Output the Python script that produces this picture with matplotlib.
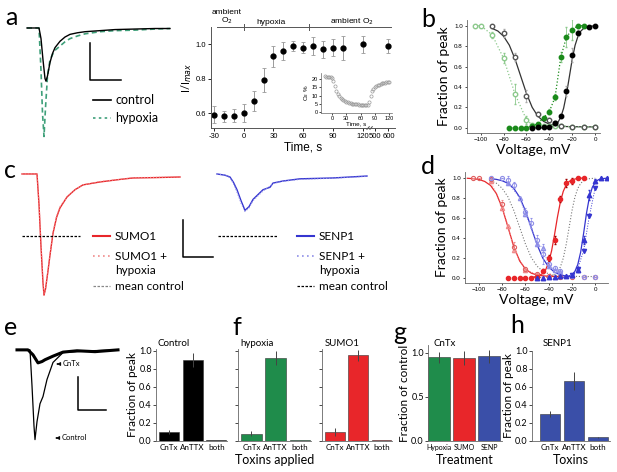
import numpy as np
import matplotlib
matplotlib.use('Agg')
import matplotlib.pyplot as plt

W, H = 617, 472
plt.rcParams['font.family'] = ['Lato', 'DejaVu Sans']
ARIAL = ['Liberation Sans', 'DejaVu Sans']

GREEN_T = '#3fa07a'
GREEN = '#1f8c4b'
GREEN_D = '#1a8a1a'
GREEN_L = '#8cc98c'
RED = '#e8262a'
RED_L = '#f08a8a'
BLUE = '#3a4fa8'
BLUE_P = '#3535d0'
BLUE_L = '#8f8fe8'

# ---- a: example traces (ms, normalised to control peak)
A_T = [0.4, 2.8, 3.2, 3.6, 4.0, 4.2, 4.5, 5.0, 5.5, 6.0, 7.0, 8.0, 9.0, 10.5, 12, 15, 18, 22, 26, 29]
A_CTRL = [0, 0, -0.2, -0.6, -0.95, -1.0, -0.9, -0.65, -0.48, -0.37, -0.25, -0.17, -0.12, -0.09,
          -0.07, -0.05, -0.03, -0.02, -0.01, -0.01]
A_TH = [0.4, 2.8, 3.2, 3.5, 3.8, 4.1, 4.5, 5.0, 5.5, 6.0, 7.0, 8.0, 9.0, 10.5, 12, 15, 18, 22, 26, 29]
A_HYP = [0, 0, -0.8, -1.6, -2.04, -1.5, -0.9, -0.6, -0.5, -0.42, -0.34, -0.26, -0.2, -0.15,
         -0.11, -0.07, -0.05, -0.04, -0.02, -0.01]

# ---- a: time course
TIME = [-30, -20, -10, 0, 10, 20, 30, 40, 50, 60, 70, 80, 90, 100, 120, 600]
RATIO = [0.59, 0.58, 0.585, 0.60, 0.67, 0.79, 0.93, 0.96, 0.99, 0.98, 0.99, 0.97, 0.98, 0.98, 1.00, 0.99]
RATIO_ERR = [0.05, 0.03, 0.04, 0.05, 0.06, 0.07, 0.06, 0.05, 0.03, 0.03, 0.05, 0.05, 0.05, 0.07, 0.05, 0.04]
TIME_TICKS = [-30, 0, 30, 60, 90, 120, 500, 600]

# ---- a inset: O2 %
O2_T = [-15, -12, -9, -6, -3, 0, 3, 6, 9, 12, 15, 18, 21, 24, 27, 30, 33, 36, 39, 42, 45, 48, 51,
        54, 57, 60, 63, 66, 69, 72, 75, 78, 81, 84, 87, 90, 93, 96, 99, 102, 105, 108, 111, 114, 117, 120]
O2_V = [21.5, 21.4, 21.3, 21.2, 21.0, 20.5, 18.5, 15.5, 13.0, 11.2, 10.0, 8.8, 8.0, 7.3, 6.8, 6.3,
        6.0, 5.7, 5.4, 5.2, 5.0, 4.9, 4.8, 4.7, 4.6, 4.5, 4.5, 4.4, 4.4, 4.5, 4.6, 6.0, 10.0, 12.5,
        14.0, 15.0, 15.7, 16.2, 16.6, 17.0, 17.3, 17.5, 17.7, 17.9, 18.0, 18.2]

# ---- b: voltage dependence, control vs hypoxia
B_INACT_V = [-90, -80, -70, -60, -50, -40, -35, -30, -20, -10, 0]
B_INACT_C = [1.0, 0.93, 0.69, 0.31, 0.14, 0.08, 0.05, 0.02, 0.01, 0.01, 0.01]
B_INACT_C_ERR = [0.0, 0.04, 0.04, 0.06, 0.02, 0.02, 0.01, 0.01, 0.0, 0.0, 0.0]
B_INACT_HV = [-105, -100, -90, -80, -70, -60, -55, -50, -45, -40, -35, -30, -20, -10, 0]
B_INACT_H = [1.0, 1.0, 0.91, 0.68, 0.33, 0.08, 0.03, 0.03, 0.02, 0.02, 0.02, 0.02, 0.01, 0.01, 0.01]
B_INACT_H_ERR = [0, 0, 0.03, 0.05, 0.1, 0.04, 0.01, 0.01, 0, 0, 0, 0, 0, 0, 0]
B_ACT_V = [-55, -50, -45, -40, -35, -30, -25, -20, -15, -5, 0]
B_ACT_C = [0.0, 0.01, 0.01, 0.01, 0.05, 0.12, 0.36, 0.71, 0.93, 0.99, 1.0]
B_ACT_C_ERR = [0, 0, 0, 0, 0.01, 0.02, 0.05, 0.07, 0.03, 0, 0]
B_ACT_HV = [-75, -70, -65, -60, -55, -50, -45, -40, -35, -30, -25, -20, -15, -10]
B_ACT_H = [0.0, 0.0, 0.0, 0.0, 0.02, 0.04, 0.10, 0.16, 0.30, 0.69, 0.89, 0.96, 1.0, 1.0]
B_ACT_H_ERR = [0, 0, 0, 0, 0, 0, 0.01, 0.02, 0.03, 0.05, 0.1, 0.1, 0, 0]

# control fits (also shown as mean control in d)
FIT_INACT_V = [-110, -105, -100, -95, -90, -85, -80, -75, -70, -65, -60, -55, -50, -45, -40, -35,
               -30, -25, -20, -15, -10, -5, 0]
FIT_INACT = [0.998, 0.997, 0.993, 0.986, 0.973, 0.947, 0.896, 0.809, 0.673, 0.505, 0.337, 0.201,
             0.114, 0.063, 0.037, 0.023, 0.017, 0.013, 0.012, 0.011, 0.01, 0.01, 0.01]
FIT_ACT_V = [-55, -50, -45, -40, -37.5, -35, -32.5, -30, -27.5, -25, -22.5, -20, -17.5, -15, -12.5,
             -10, -5, 0]
FIT_ACT = [0.0, 0.0004, 0.0016, 0.0067, 0.0136, 0.027, 0.054, 0.105, 0.193, 0.33, 0.5, 0.67, 0.807,
           0.895, 0.946, 0.973, 0.993, 0.998]

# ---- c: SUMO1 / SENP1 traces
C_T = [0.4, 3.4, 3.8, 4.2, 4.6, 4.8, 5.1, 5.6, 6.0, 6.6, 7.3, 8.0, 9.4, 11, 12.6, 16, 20, 22.6, 27, 32]
C_SUMO = [0, 0, -0.25, -0.6, -0.9, -1.0, -0.95, -0.8, -0.67, -0.49, -0.36, -0.28, -0.19, -0.13,
          -0.09, -0.066, -0.045, -0.033, -0.03, -0.025]
C_SUMO_H = [0, 0, -0.24, -0.58, -0.88, -0.99, -0.95, -0.79, -0.66, -0.48, -0.35, -0.27, -0.19, -0.13,
            -0.09, -0.062, -0.045, -0.03, -0.028, -0.025]
C_TB = [0.4, 2.0, 3.0, 3.7, 4.4, 5.2, 6.0, 6.8, 7.6, 9.6, 11, 11.6, 13.6, 17, 23.6, 30.4]
C_SENP = [0, -0.01, -0.025, -0.07, -0.13, -0.22, -0.30, -0.27, -0.21, -0.13, -0.11, -0.075, -0.058,
          -0.04, -0.033, -0.017]
C_SENP_H = [0, -0.01, -0.03, -0.08, -0.15, -0.24, -0.31, -0.28, -0.22, -0.14, -0.1, -0.08, -0.06,
            -0.045, -0.035, -0.02]
C_MEAN_CTRL = -0.51

# ---- d: voltage dependence, SUMO1 / SENP1
D_R_INV = [-105, -100, -90, -80, -70, -60, -50, -40, -30, -20, -10, 0]
D_R_IN = [1.0, 1.0, 0.99, 0.74, 0.31, 0.09, 0.04, 0.02, 0.01, 0.01, 0.01, 0.01]
D_R_IN_ERR = [0, 0, 0.03, 0.04, 0.05, 0.02, 0.01, 0, 0, 0, 0, 0]
D_RH_INV = [-90, -80, -75, -70, -60, -50]
D_RH_IN = [0.97, 0.70, 0.52, 0.28, 0.08, 0.03]
D_R_ACV = [-75, -70, -65, -60, -55, -50, -45, -40, -35, -30, -25, -20, -15, -10]
D_R_AC = [0, 0, 0, 0, 0, 0.01, 0.07, 0.20, 0.38, 0.79, 0.95, 0.97, 1.0, 1.0]
D_R_AC_ERR = [0, 0, 0, 0, 0, 0, 0.02, 0.03, 0.04, 0.03, 0.04, 0.03, 0, 0]
D_B_INV = [-90, -80, -75, -70, -60, -55, -50, -45, -40, -35, -30, -20, -10, 0]
D_B_IN = [1.0, 1.0, 0.98, 0.93, 0.66, 0.55, 0.38, 0.24, 0.14, 0.10, 0.07, 0.02, 0.01, 0.01]
D_B_IN_ERR = [0, 0, 0.04, 0.03, 0.04, 0.05, 0.05, 0.1, 0.04, 0.02, 0.02, 0, 0, 0]
D_BH_INV = [-75, -65, -60, -50, -45, -40, -35, -30]
D_BH_IN = [0.95, 0.80, 0.64, 0.34, 0.30, 0.12, 0.08, 0.06]
D_B_ACV = [-50, -45, -40, -35, -30, -25, -20, -15, -10, -5, 0, 5, 10]
D_B_AC = [0, 0, 0.01, 0.01, 0.02, 0.02, 0.03, 0.08, 0.38, 0.83, 0.97, 1.0, 1.0]
D_B_AC_ERR = [0, 0, 0, 0, 0, 0, 0.01, 0.02, 0.04, 0.05, 0.02, 0, 0]
D_BH_ACV = [-20, -15, -10, -5, 0]
D_BH_AC = [0.03, 0.09, 0.27, 0.62, 0.90]

FIT_R_INV = [-110, -105, -100, -95, -90, -85, -80, -75, -70, -65, -60, -55, -50, -45, -40, -35, -30]
FIT_R_IN = [0.997, 0.993, 0.985, 0.965, 0.925, 0.843, 0.70, 0.505, 0.31, 0.167, 0.085, 0.044,
            0.025, 0.017, 0.013, 0.011, 0.01]
FIT_R_ACV = [-55, -50, -45, -42.5, -40, -37.5, -35, -32.5, -30, -27.5, -25, -22.5, -20, -15, -10]
FIT_R_AC = [0.0025, 0.010, 0.041, 0.081, 0.154, 0.269, 0.43, 0.606, 0.757, 0.865, 0.93, 0.964,
            0.982, 0.996, 0.999]
FIT_B_INV = [-90, -85, -80, -75, -70, -65, -60, -55, -50, -45, -40, -35, -30, -25, -20]
FIT_B_IN = [0.993, 0.986, 0.972, 0.946, 0.895, 0.807, 0.67, 0.5, 0.33, 0.193, 0.105, 0.054, 0.027,
            0.014, 0.007]
FIT_B_ACV = [-30, -25, -20, -17.5, -15, -12.5, -10, -7.5, -5, -2.5, 0, 2.5, 5, 10]
FIT_B_AC = [0.001, 0.005, 0.027, 0.061, 0.13, 0.256, 0.442, 0.646, 0.807, 0.906, 0.957, 0.981,
            0.992, 0.998]

# ---- e: toxin traces
E_T = [0.4, 3.0, 3.4, 3.8, 4.0, 4.4, 5.0, 5.6, 6.4, 7.6, 9.6, 12.4, 15, 20.6]
E_CTRL = [0, 0, -0.4, -0.85, -1.0, -0.8, -0.6, -0.52, -0.33, -0.14, -0.03, -0.02, -0.01, 0.0]
E_TC = [0.4, 2.6, 3.6, 4.6, 5.4, 6.0, 7.6, 9.6, 12.4, 16, 20.6]
E_CNTX = [0, 0, -0.055, -0.145, -0.13, -0.11, -0.07, -0.025, -0.01, -0.02, 0.0]

# ---- e-h: bar charts
TOXINS = ['CnTx', 'AnTTX', 'both']
CTRL_FRAC = [0.10, 0.90, 0.01]
CTRL_ERR = [0.025, 0.08, 0.003]
HYP_FRAC = [0.08, 0.92, 0.01]
HYP_ERR = [0.03, 0.08, 0.003]
SUMO_FRAC = [0.10, 0.95, 0.01]
SUMO_ERR = [0.04, 0.06, 0.003]
TREATMENTS = ['Hypoxia', 'SUMO', 'SENP']
CNTX_FRAC = [0.95, 0.94, 0.96]
CNTX_ERR = [0.06, 0.08, 0.07]
SENP_FRAC = [0.30, 0.66, 0.04]
SENP_ERR = [0.035, 0.10, 0.008]

fig = plt.figure(figsize=(W / 100, H / 100), dpi=100)


def box(x0, y0, x1, y1):
    return fig.add_axes([x0 / W, 1 - y1 / H, (x1 - x0) / W, (y1 - y0) / H])


# overlay in pixel coordinates for labels, scale bars, legends (drawn on top)
ov = box(0, 0, W, H)
ov.set_xlim(0, W); ov.set_ylim(H, 0); ov.axis('off')
ov.set_zorder(10)


def sbar(x, y_top, y_bot, x_end):
    ov.plot([x, x, x_end], [y_top, y_bot, y_bot], color='black', lw=1.1)


for lab, x, y in [('a', 5, 25), ('b', 421, 27), ('c', 4, 178), ('d', 421, 174),
                  ('e', 4, 335), ('f', 232, 335), ('g', 393, 340), ('h', 510, 333)]:
    ov.text(x, y, lab, fontsize=18, va='baseline', ha='left')

# ---- a traces
axA = box(25, 20, 175, 145)
axA.set_xlim(0, 30); axA.set_ylim(-2.2, 0.15); axA.axis('off')
axA.plot(A_TH, A_HYP, color=GREEN_T, lw=1.2, ls=(0, (3, 2)))
axA.plot(A_T, A_CTRL, color='black', lw=1.0)
sbar(90, 43, 80, 121)
ov.plot([93, 111], [100, 100], color='black', lw=1.2)
ov.plot([93, 111], [118, 118], color=GREEN_T, lw=1.2, ls=(0, (1.5, 2)))
ov.text(115, 100, 'control', fontsize=9, va='center')
ov.text(115, 118, 'hypoxia', fontsize=9, va='center')

# ---- a time course
def tpos(t):
    return t if t <= 120 else 132.6 + (t - 500) * 0.134

axT = box(211, 27, 395, 128)
axT.errorbar([tpos(t) for t in TIME], RATIO, yerr=RATIO_ERR, fmt='o', color='black', ms=3.5,
             ecolor='#9a9a9a', elinewidth=0.7, capsize=1.5, capthick=0.6)
axT.set_xlim(-33, 152.6); axT.set_ylim(0.513, 1.1)
axT.set_xticks([tpos(t) for t in TIME_TICKS])
axT.set_xticklabels([str(t) for t in TIME_TICKS], family=ARIAL, fontsize=5.5)
axT.set_yticks([0.6, 0.8, 1.0])
axT.set_yticklabels(['0.6', '0.8', '1.0'], family=ARIAL, fontsize=5.5)
axT.tick_params(length=2, width=0.6, pad=1.5)
for s in ['top', 'right']:
    axT.spines[s].set_visible(False)
for s in ['left', 'bottom']:
    axT.spines[s].set_linewidth(0.7); axT.spines[s].set_color('#555555')
axT.set_xlabel('Time, s', family=ARIAL, fontsize=8.5, labelpad=1)
axT.set_ylabel('I/I$_{max}$', fontsize=8, labelpad=1)
axT.plot([-27, 149], [1.1, 1.1], color='#555555', lw=0.7, clip_on=False)
for tx in [0, 66]:
    axT.plot([tx, tx], [1.08, 1.12], color='#555555', lw=0.7, clip_on=False)
for bx in [125.5, 128.5]:
    axT.plot([bx - 1.2, bx + 1.2], [0.505, 0.521], color='#555555', lw=0.7, clip_on=False)
ov.text(227, 12, 'ambient', family=ARIAL, fontsize=6, ha='center', va='center')
ov.text(227, 21, 'O$_2$', family=ARIAL, fontsize=6, ha='center', va='center')
ov.text(271, 22, 'hypoxia', family=ARIAL, fontsize=6, ha='center', va='center')
ov.text(352, 22, 'ambient O$_2$', family=ARIAL, fontsize=6, ha='center', va='center')

# inset
axI = box(321, 73, 392, 113)
axI.patch.set_alpha(0)
axI.plot(O2_T, O2_V, 'o', mfc='none', mec='#999999', ms=2.3, mew=0.5)
axI.set_xlim(-23, 126); axI.set_ylim(-0.5, 23.5)
axI.set_xticks([0, 30, 60, 90, 120]); axI.set_yticks([0, 5, 10, 15, 20])
axI.tick_params(labelsize=4, length=1.5, width=0.5, pad=1)
for lab in axI.get_xticklabels() + axI.get_yticklabels():
    lab.set_family(ARIAL)
for s in ['top', 'right']:
    axI.spines[s].set_visible(False)
for s in ['left', 'bottom']:
    axI.spines[s].set_linewidth(0.5); axI.spines[s].set_color('#666666')
axI.set_xlabel('Time, s', family=ARIAL, fontsize=4.5, labelpad=0)
axI.set_ylabel('O$_2$ %', family=ARIAL, fontsize=4.5, labelpad=0)


def volt_axes(ax, xmax):
    ax.set_xlim(-112, xmax)
    ax.set_xticks([-100, -80, -60, -40, -20, 0])
    ax.set_yticks([0, 0.2, 0.4, 0.6, 0.8, 1.0])
    ax.set_yticklabels(['0.0', '0.2', '0.4', '0.6', '0.8', '1.0'])
    ax.tick_params(labelsize=4.5, length=1.5, width=0.5, pad=1.5)
    for lab in ax.get_xticklabels() + ax.get_yticklabels():
        lab.set_family(ARIAL)
    for s in ['top', 'right']:
        ax.spines[s].set_visible(False)
    for s in ['left', 'bottom']:
        ax.spines[s].set_linewidth(0.6); ax.spines[s].set_color('#666666')
    ax.set_ylabel('Fraction of peak', fontsize=10, labelpad=3)
    ax.set_xlabel('Voltage, mV', fontsize=10, labelpad=1)


# ---- b
axB = box(467, 20, 600, 133)
axB.set_ylim(-0.05, 1.055)
axB.plot(FIT_INACT_V[4:], FIT_INACT[4:], color='#333333', lw=0.9)
axB.plot(FIT_ACT_V, FIT_ACT, color='#333333', lw=0.9)
axB.errorbar(B_INACT_HV, B_INACT_H, yerr=B_INACT_H_ERR, fmt='o', ls=':', color=GREEN_L, mfc='white',
             mec=GREEN_L, ms=3.2, lw=0.9, elinewidth=0.6, capsize=1)
axB.errorbar(B_ACT_HV, B_ACT_H, yerr=B_ACT_H_ERR, fmt='o', ls=':', color=GREEN_D, ms=3.2, lw=0.9,
             ecolor=GREEN_L, elinewidth=0.6, capsize=1)
axB.errorbar(B_INACT_V, B_INACT_C, yerr=B_INACT_C_ERR, fmt='o', color='#555555', mfc='white',
             ms=3.2, elinewidth=0.6, ecolor='#aaaaaa', capsize=1)
axB.errorbar(B_ACT_V, B_ACT_C, yerr=B_ACT_C_ERR, fmt='o', color='black', ms=3.2,
             elinewidth=0.6, ecolor='#aaaaaa', capsize=1)
volt_axes(axB, 4.3)

# ---- c traces
axC1 = box(20, 165, 185, 300)
axC1.set_xlim(0, 33); axC1.set_ylim(-1.04, 0.074); axC1.axis('off')
axC1.plot(C_T, C_SUMO, color=RED, lw=1.0)
axC1.plot(C_T, C_SUMO_H, color=RED_L, lw=0.8, ls=':')
axC1.plot([0.4, 12], [C_MEAN_CTRL, C_MEAN_CTRL], color='black', lw=0.9, ls=(0, (2, 1.2)))
axC2 = box(215, 165, 380, 300)
axC2.set_xlim(0, 33); axC2.set_ylim(-1.04, 0.074); axC2.axis('off')
axC2.plot(C_TB, C_SENP, color=BLUE_P, lw=1.0)
axC2.plot(C_TB, C_SENP_H, color=BLUE_L, lw=0.8, ls=':')
axC2.plot([0.6, 12.6], [C_MEAN_CTRL, C_MEAN_CTRL], color='black', lw=0.9, ls=(0, (2, 1.2)))
sbar(183, 220, 257, 213)
for x0, col, colh, name, dcol in [(93, RED, RED_L, 'SUMO1', '#888888'),
                                  (297, BLUE_P, BLUE_L, 'SENP1', 'black')]:
    ov.plot([x0, x0 + 17], [236, 236], color=col, lw=1.5)
    ov.plot([x0, x0 + 17], [256, 256], color=colh, lw=1.2, ls=(0, (1, 2)))
    ov.plot([x0, x0 + 17], [286, 286], color=dcol, lw=0.9, ls=(0, (2, 1.2)))
    ov.text(x0 + 22, 236, name, fontsize=8.5, va='center')
    ov.text(x0 + 22, 256, name + ' +', fontsize=8.5, va='center')
    ov.text(x0 + 22, 271, 'hypoxia', fontsize=8.5, va='center')
    ov.text(x0 + 22, 286, 'mean control', fontsize=8.5, va='center')

# ---- d
axD = box(465, 172, 608, 283)
axD.set_ylim(-0.055, 1.06)
axD.plot(FIT_INACT_V[4:], FIT_INACT[4:], color='#777777', lw=0.8, ls=':')
axD.plot(FIT_ACT_V, FIT_ACT, color='#777777', lw=0.8, ls=':')
axD.plot(FIT_R_INV, FIT_R_IN, color=RED, lw=0.9)
axD.plot(FIT_R_ACV, FIT_R_AC, color=RED, lw=0.9)
axD.plot(FIT_B_INV, FIT_B_IN, color=BLUE_P, lw=0.9)
axD.plot(FIT_B_ACV, FIT_B_AC, color=BLUE_P, lw=0.9)
axD.plot(D_RH_INV, D_RH_IN, '^', ls=':', color=RED_L, mfc='none', ms=3, lw=0.7)
axD.plot(D_BH_INV, D_BH_IN, '^', ls=':', color=BLUE_L, mfc='none', ms=3, lw=0.7)
axD.plot(D_BH_ACV, D_BH_AC, 'v', ls=':', color=BLUE_P, ms=3, lw=0.7)
axD.errorbar(D_R_INV, D_R_IN, yerr=D_R_IN_ERR, fmt='o', color='#e06060', mfc='none', ms=3,
             mew=0.8, elinewidth=0.5, ecolor=RED_L, capsize=1)
axD.errorbar(D_B_INV, D_B_IN, yerr=D_B_IN_ERR, fmt='o', color=BLUE_L, mfc='none', ms=3,
             mew=0.8, elinewidth=0.5, ecolor=BLUE_L, capsize=1)
axD.errorbar(D_R_ACV, D_R_AC, yerr=D_R_AC_ERR, fmt='o', color=RED, ms=3, elinewidth=0.6,
             ecolor='#a00000', capsize=1)
axD.errorbar(D_B_ACV, D_B_AC, yerr=D_B_AC_ERR, fmt='^', color=BLUE_P, ms=3.2, elinewidth=0.6,
             ecolor=BLUE_P, capsize=1)
volt_axes(axD, 11)

# ---- e traces
axE = box(15, 340, 120, 445)
axE.set_xlim(0, 21); axE.set_ylim(-1.06, 0.11); axE.axis('off')
axE.plot(E_T, E_CTRL, color='black', lw=0.9)
axE.plot(E_TC, E_CNTX, color='black', lw=2.2)
sbar(78, 377, 410, 106)
ov.annotate('CnTx', xy=(54, 364), xytext=(63, 364), fontsize=5.5, va='center',
            arrowprops=dict(arrowstyle='-|>', lw=0.7, color='black', mutation_scale=5))
ov.annotate('Control', xy=(53, 438), xytext=(62, 438), fontsize=5.5, va='center',
            arrowprops=dict(arrowstyle='-|>', lw=0.7, color='black', mutation_scale=5))


def bar_axes(ax, cats, vals, errs, color, xlim, ylim, width=0.85, xfs=5.8):
    x = np.arange(len(cats))
    ax.bar(x, vals, width=width, color=color, edgecolor='#333333', lw=0.4,
           yerr=errs, error_kw=dict(ecolor='#444444', elinewidth=0.7, capsize=0))
    ax.set_xlim(*xlim); ax.set_ylim(*ylim)
    ax.set_xticks(x)
    ax.set_xticklabels(cats, fontsize=xfs)
    ax.tick_params(axis='x', length=0, pad=2)
    ax.tick_params(axis='y', labelsize=6.5, length=2, width=0.5, pad=1)
    ax.patch.set_alpha(0)
    for s in ['top', 'right']:
        ax.spines[s].set_visible(False)
    for s in ['left', 'bottom']:
        ax.spines[s].set_linewidth(0.6); ax.spines[s].set_color('#666666')


axCt = box(156, 349, 227, 441)
bar_axes(axCt, TOXINS, CTRL_FRAC, CTRL_ERR, 'black', (-0.55, 2.45), (0, 1.02))
axCt.set_yticks([0, 0.2, 0.4, 0.6, 0.8, 1.0])
axCt.set_yticklabels(['0.0', '0.2', '0.4', '0.6', '0.8', '1.0'])
axCt.set_ylabel('Fraction of peak', fontsize=8.5, labelpad=1)

axHy = box(238, 349, 311, 441)
bar_axes(axHy, TOXINS, HYP_FRAC, HYP_ERR, GREEN, (-0.55, 2.45), (0, 1.02))
axHy.set_yticks([0, 0.2, 0.4, 0.6, 0.8, 1.0]); axHy.set_yticklabels([])
axHy.set_xlabel('Toxins applied', fontsize=9, labelpad=2)

axSu = box(322, 349, 392, 441)
bar_axes(axSu, TOXINS, SUMO_FRAC, SUMO_ERR, RED, (-0.55, 2.45), (0, 1.02))
axSu.set_yticks([0, 0.2, 0.4, 0.6, 0.8, 1.0]); axSu.set_yticklabels([])

axG = box(428, 345, 502, 441)
bar_axes(axG, TREATMENTS, CNTX_FRAC, CNTX_ERR, [GREEN, RED, BLUE], (-0.45, 2.5), (0, 1.09),
         width=0.88, xfs=5.0)
axG.set_yticks([0, 0.5, 1.0]); axG.set_yticklabels(['0.0', '0.5', '1.0'])
axG.set_ylabel('Fraction of control', fontsize=8.5, labelpad=1)
axG.set_xlabel('Treatment', fontsize=9, labelpad=2)

axH = box(532, 350.7, 610, 441)
bar_axes(axH, TOXINS, SENP_FRAC, SENP_ERR, BLUE, (-0.75, 2.5), (0, 1.0))
axH.set_yticks([0, 0.2, 0.4, 0.6, 0.8, 1.0])
axH.set_yticklabels(['0.0', '0.2', '0.4', '0.6', '0.8', '1.0'])
axH.set_ylabel('Fraction of peak', fontsize=8.5, labelpad=1)
axH.set_xlabel('Toxins', fontsize=9, labelpad=2)

for name, x in [('Control', 158), ('hypoxia', 240), ('SUMO1', 325), ('CnTx', 434), ('SENP1', 543)]:
    ov.text(x, 343, name, fontsize=7, va='center')

fig.savefig('out.png', dpi=100)
